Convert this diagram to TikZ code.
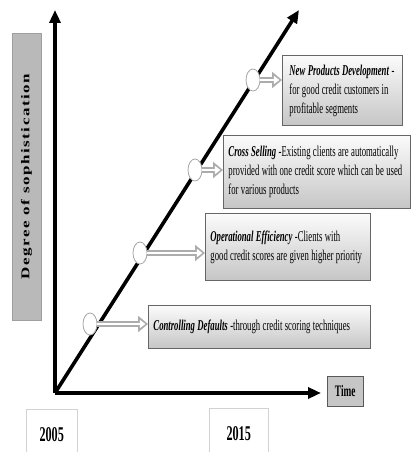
\documentclass[tikz,border=0pt]{standalone}
\usepackage{fontspec}
\setmainfont{Liberation Serif}[FakeStretch=0.58]
\newfontfamily\sidefont{Liberation Serif}[LetterSpace=9]
\usetikzlibrary{arrows.meta,shapes.geometric}

\begin{document}
\begin{tikzpicture}[x=1pt,y=-1pt,
  axis/.style={line width=3.6pt,-{Triangle[length=13pt,width=11pt]}},
  stage/.style={draw=gray!80!black,line width=0.9pt,top color=gray!3,bottom color=gray!45,anchor=north west,inner xsep=5pt,inner ysep=0pt,align=left,
    font=\fontsize{15}{19}\selectfont,execute at begin node={\spaceskip=2.4pt plus 1pt minus 0.5pt\relax}},
  dot/.style={ellipse,draw=gray!70,fill=white,line width=0.8pt,minimum width=14pt,minimum height=22pt,inner sep=0pt},
  harrow/.style={draw=gray!65,line width=6.5pt,-{Triangle[length=10pt,width=16pt]}},
  hinner/.style={draw=white,line width=2.8pt,shorten >=2.6pt,-{Triangle[length=5.5pt,width=8pt]}},
  year/.style={draw=gray!35,fill=white,anchor=north west,minimum height=50pt,font=\fontsize{21}{24}\selectfont\bfseries}]
\useasboundingbox (0,0) rectangle (413,452);
% Degree of sophistication
\node[draw=gray!75,fill=gray!55,minimum width=29pt,minimum height=287pt,inner sep=0pt] (side) at (26.5,176.5)
  {\rotatebox{90}{\scalebox{1}[0.7]{\sidefont\fontsize{17}{19}\selectfont\bfseries Degree of sophistication}}};
% axes
\coordinate (o) at (55,393); \coordinate (ytop) at (55,10);
\coordinate (xend) at (321,393); \coordinate (dtop) at (299,10);
\draw[axis] (o)--(ytop); \draw[axis] (o)--(xend); \draw[axis] (o)--(dtop);
% milestones
\node[dot] (c1) at (90,324) {}; \node[dot] (c2) at (140,253) {};
\node[dot] (c3) at (195,170) {}; \node[dot] (c4) at (253,80) {};
% stages
\node[stage,text width=212pt,minimum height=43pt] (b1) at (148,305)
  {\textbf{\textit{Controlling Defaults}} -through credit scoring techniques};
\node[stage,text width=155pt,minimum height=67pt] (b2) at (205,213)
  {\textbf{\textit{Operational Efficiency}} -Clients with\\good credit scores are given higher priority};
\node[stage,text width=177pt,minimum height=73pt] (b3) at (223,135)
  {\textbf{\textit{Cross Selling}} -Existing clients are automatically\\provided with one credit score which can be used\\for various products};
\node[stage,inner xsep=7pt,text width=106pt,minimum height=70pt] (b4) at (282,55)
  {\textbf{\textit{New Products Development}} -\\for good credit customers in\\profitable segments};
\foreach \i in {1,...,4} {
  \draw[harrow] (c\i.east)--(c\i.east -| b\i.west);
  \draw[hinner] (c\i.east)--(c\i.east -| b\i.west);
}
% years and time
\node[year,minimum width=51pt] (y1) at (26,409) {2005};
\node[year,minimum width=59pt] (y2) at (209,408) {2015};
\node[draw=gray!70!black,fill=gray!45,anchor=north west,minimum width=36pt,minimum height=30pt,inner sep=0pt,font=\fontsize{16}{18}\selectfont\bfseries] (t) at (327,376) {Time};
\end{tikzpicture}
\end{document}
